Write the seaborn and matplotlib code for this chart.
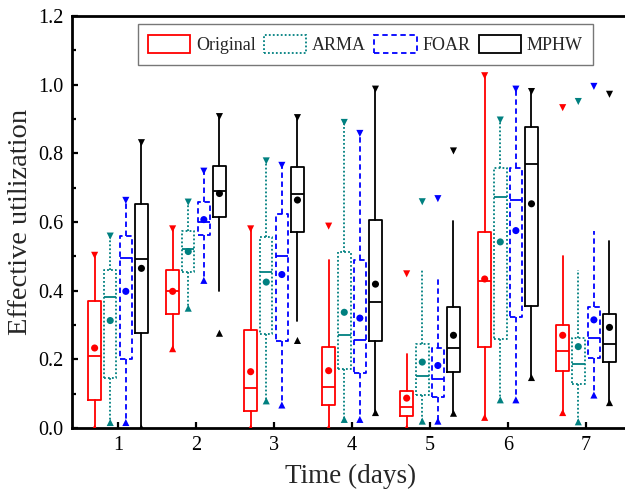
import glob
import numpy as np
import pandas as pd
import matplotlib
matplotlib.use("Agg")
import matplotlib.pyplot as plt
from matplotlib import font_manager
from matplotlib.patches import Patch
from matplotlib.ticker import MultipleLocator, FormatStrFormatter
import seaborn as sns

days = [1, 2, 3, 4, 5, 6, 7]
series = ["Original", "ARMA", "FOAR", "MPHW"]

orig_q1 = [0.082, 0.333, 0.050, 0.067, 0.036, 0.237, 0.166]
orig_med = [0.211, 0.398, 0.116, 0.119, 0.062, 0.427, 0.223]
orig_q3 = [0.369, 0.459, 0.286, 0.237, 0.109, 0.570, 0.301]
orig_mean = [0.233, 0.398, 0.164, 0.167, 0.087, 0.434, 0.270]
orig_wlo = [0.0, 0.231, 0.0, 0.0, 0.0, 0.031, 0.045]
orig_whi = [0.503, 0.580, 0.580, 0.490, 0.215, 1.026, 0.500]
orig_min = [0.0, 0.231, 0.0, 0.0, 0.0, 0.031, 0.045]
orig_max = [0.503, 0.580, 0.580, 0.588, 0.449, 1.026, 0.933]

arma_q1 = [0.145, 0.454, 0.274, 0.171, 0.096, 0.259, 0.128]
arma_med = [0.383, 0.520, 0.454, 0.270, 0.152, 0.673, 0.186]
arma_q3 = [0.461, 0.573, 0.557, 0.513, 0.244, 0.758, 0.262]
arma_mean = [0.313, 0.514, 0.425, 0.337, 0.192, 0.542, 0.237]
arma_wlo = [0.016, 0.349, 0.079, 0.025, 0.020, 0.082, 0.018]
arma_whi = [0.559, 0.658, 0.778, 0.890, 0.461, 0.897, 0.459]
arma_min = [0.016, 0.349, 0.079, 0.025, 0.020, 0.082, 0.018]
arma_max = [0.559, 0.658, 0.778, 0.890, 0.659, 0.897, 0.951]

foar_q1 = [0.200, 0.563, 0.252, 0.160, 0.090, 0.323, 0.205]
foar_med = [0.494, 0.600, 0.502, 0.255, 0.142, 0.663, 0.262]
foar_q3 = [0.559, 0.659, 0.624, 0.490, 0.233, 0.758, 0.352]
foar_mean = [0.398, 0.607, 0.447, 0.320, 0.182, 0.575, 0.315]
foar_wlo = [0.016, 0.430, 0.067, 0.025, 0.020, 0.082, 0.096]
foar_whi = [0.663, 0.748, 0.765, 0.858, 0.440, 0.987, 0.573]
foar_min = [0.016, 0.430, 0.067, 0.025, 0.020, 0.082, 0.096]
foar_max = [0.663, 0.748, 0.765, 0.858, 0.668, 0.987, 0.995]

mphw_q1 = [0.276, 0.615, 0.570, 0.254, 0.163, 0.356, 0.192]
mphw_med = [0.492, 0.690, 0.682, 0.366, 0.233, 0.768, 0.245]
mphw_q3 = [0.651, 0.763, 0.761, 0.607, 0.351, 0.877, 0.332]
mphw_mean = [0.465, 0.683, 0.664, 0.419, 0.270, 0.653, 0.293]
mphw_wlo = [0.0, 0.400, 0.313, 0.045, 0.043, 0.147, 0.074]
mphw_whi = [0.831, 0.907, 0.904, 0.987, 0.602, 0.980, 0.544]
mphw_min = [0.0, 0.276, 0.255, 0.045, 0.043, 0.147, 0.074]
mphw_max = [0.831, 0.907, 0.904, 0.987, 0.807, 0.980, 0.972]

data = {
    "Original": (orig_q1, orig_med, orig_q3, orig_mean, orig_wlo, orig_whi, orig_min, orig_max),
    "ARMA": (arma_q1, arma_med, arma_q3, arma_mean, arma_wlo, arma_whi, arma_min, arma_max),
    "FOAR": (foar_q1, foar_med, foar_q3, foar_mean, foar_wlo, foar_whi, foar_min, foar_max),
    "MPHW": (mphw_q1, mphw_med, mphw_q3, mphw_mean, mphw_wlo, mphw_whi, mphw_min, mphw_max),
}

colors = {"Original": "#FF0000", "ARMA": "#008080", "FOAR": "#0000FF", "MPHW": "#000000"}
styles = {"Original": "-", "ARMA": (0, (1, 1.2)), "FOAR": (0, (3, 2)), "MPHW": "-"}
offsets = {"Original": -0.3, "ARMA": -0.1, "FOAR": 0.1, "MPHW": 0.3}

sns.set_theme(style="ticks")
serif_name = None
for p in glob.glob("/usr/share/fonts/**/LiberationSerif*.ttf", recursive=True):
    try:
        font_manager.fontManager.addfont(p)
        if p.endswith("LiberationSerif-Regular.ttf"):
            serif_name = font_manager.FontProperties(fname=p).get_name()
    except Exception:
        pass
fam = [serif_name] if serif_name else []
plt.rcParams["font.family"] = fam + ["Liberation Serif", "DejaVu Serif"]

fig = plt.figure(figsize=(6.25, 4.92), dpi=100)
ax = fig.add_axes([72 / 625, 64 / 492, 557 / 625, 412 / 492])

rows = []
for s in series:
    q1, med, q3, mean, wlo, whi, mn, mx = data[s]
    stats = []
    for i, d in enumerate(days):
        stats.append(dict(q1=q1[i], med=med[i], q3=q3[i], whislo=wlo[i], whishi=whi[i],
                          mean=mean[i], fliers=[]))
        rows.append(dict(series=s, x=d + offsets[s], y=mean[i], kind="mean"))
        rows.append(dict(series=s, x=d + offsets[s], y=mn[i], kind="min"))
        rows.append(dict(series=s, x=d + offsets[s], y=mx[i], kind="max"))
    lw = 1.3
    ls = styles[s]
    c = colors[s]
    ax.bxp(stats, positions=[d + offsets[s] for d in days], widths=0.16,
           showfliers=False, showcaps=False, showmeans=False, patch_artist=False,
           boxprops=dict(color=c, linewidth=lw, linestyle=ls),
           whiskerprops=dict(color=c, linewidth=lw, linestyle=ls),
           medianprops=dict(color=c, linewidth=lw, linestyle="-"),
           manage_ticks=False)

df = pd.DataFrame(rows)
sns.scatterplot(data=df, x="x", y="y", hue="series", style="kind",
                markers={"mean": "o", "min": "^", "max": "v"},
                palette=colors, hue_order=series, s=26, linewidth=0,
                legend=False, ax=ax, zorder=5, clip_on=True)

ax.set_xlim(0.41, 7.55)
ax.set_ylim(0, 1.2)
ax.set_xticks(days)
ax.yaxis.set_major_locator(MultipleLocator(0.2))
ax.yaxis.set_minor_locator(MultipleLocator(0.1))
ax.yaxis.set_major_formatter(FormatStrFormatter("%.1f"))
ax.tick_params(axis="both", which="both", direction="in", width=1.6, labelsize=14.5,
               colors="black")
ax.tick_params(axis="both", which="major", length=4.5, pad=6)
ax.tick_params(axis="y", which="minor", length=3)
ax.tick_params(axis="x", which="minor", length=0)
for sp in ax.spines.values():
    sp.set_linewidth(2.0)
    sp.set_color("black")
    sp.set_visible(True)

ax.set_xlabel("Time (days)", fontsize=19.5, labelpad=6)
ax.set_ylabel("Effective utilization", fontsize=20.5, labelpad=4)

handles = [Patch(facecolor="none", edgecolor=colors[s], linestyle=styles[s], linewidth=1.3,
                 label=s) for s in series]
leg = ax.legend(handles=handles, loc="center", bbox_to_anchor=(365.5 / 625, 1 - 44.5 / 492),
                bbox_transform=fig.transFigure, ncol=4, fontsize=13, frameon=True,
                fancybox=False, edgecolor="#555555", handlelength=2.33, handleheight=1.17,
                handletextpad=0.33, columnspacing=0.45, borderpad=0.6, borderaxespad=0)
leg.get_frame().set_linewidth(1.0)

fig.savefig("out.png", dpi=100)
